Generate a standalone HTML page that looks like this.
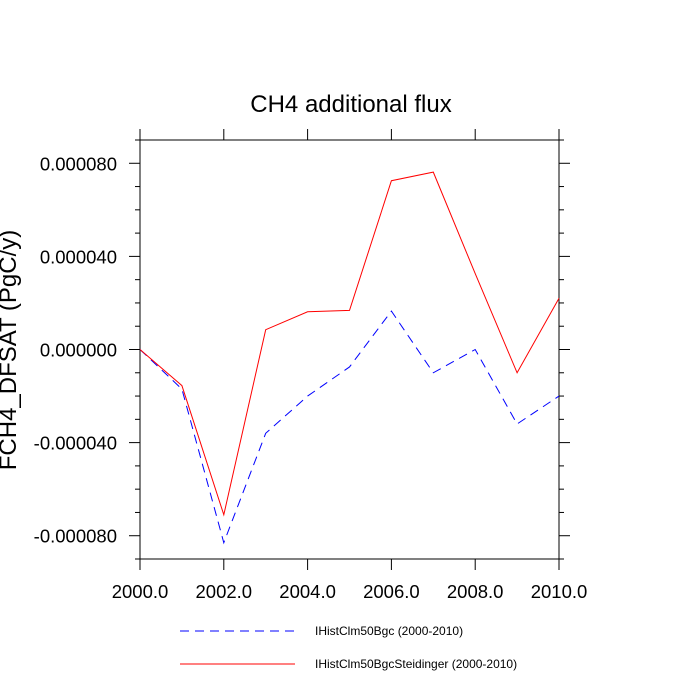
<!DOCTYPE html>
<html><head><meta charset="utf-8"><style>body{margin:0;background:#fff}svg{display:block}text{font-family:"Liberation Sans",sans-serif}</style></head>
<body>
<svg id="c" width="700" height="700" xmlns="http://www.w3.org/2000/svg">
<text x="351" y="112" font-size="24" text-anchor="middle">CH4 additional flux</text>
<text transform="translate(16,350) rotate(-90)" font-size="24" text-anchor="middle">FCH4_DFSAT  (PgC/y)</text>
<g id="axes"></g>
<g id="series"></g>
<g>
<line x1="180" y1="631" x2="295" y2="631" stroke="#00f" stroke-dasharray="9,6"/>
<text x="315" y="635" font-size="12">IHistClm50Bgc (2000-2010)</text>
<line x1="180" y1="664" x2="295" y2="664" stroke="#f00"/>
<text x="315" y="668" font-size="12">IHistClm50BgcSteidinger (2000-2010)</text>
</g>
</svg>
<script>
const years=[2000,2001,2002,2003,2004,2005,2006,2007,2008,2009,2010];
const bgc=[0,-0.000017,-0.000083,-0.000036,-0.00002,-0.0000075,0.0000165,-0.00001,0,-0.000032,-0.00002];
const steid=[0,-0.0000155,-0.000071,0.0000085,0.0000162,0.0000168,0.0000725,0.0000762,0.0000326,-0.00001,0.000022];
const xTicks=[2000,2002,2004,2006,2008,2010];
const xTickLabels=["2000.0","2002.0","2004.0","2006.0","2008.0","2010.0"];
const yTicks=[-0.00008,-0.00004,0,0.00004,0.00008];
const yTickLabels=["-0.000080","-0.000040","0.000000","0.000040","0.000080"];
const L=140,R=559,T=140,B=559,ymin=-0.00009,ymax=0.00009;
const X=v=>L+(v-2000)/10*(R-L), Y=v=>B-(v-ymin)/(ymax-ymin)*(B-T);
const NS="http://www.w3.org/2000/svg";
function mk(t,a,p){const e=document.createElementNS(NS,t);for(const k in a)e.setAttribute(k,a[k]);p.appendChild(e);return e;}
const ax=document.getElementById('axes');
const fr=mk('rect',{x:L,y:T,width:R-L,height:B-T,fill:'none',stroke:'#000','stroke-width':1},ax);


xTicks.forEach((v,i)=>{const x=X(v);
 const a=mk('line',{x1:x,y1:B,x2:x,y2:B+11,stroke:'#000'},ax);
 
 
 const b=mk('line',{x1:x,y1:T,x2:x,y2:T-11,stroke:'#000'},ax);
 
 
 const t=mk('text',{x:x,y:B+39,'font-size':18.5,'text-anchor':'middle'},ax);t.textContent=xTickLabels[i];
 
 
});
for(let k=-9;k<=9;k++){const v=k*0.00001,y=Y(v),maj=(k%4===0);const len=maj?11:5;
 const a=mk('line',{x1:L,y1:y,x2:L-len,y2:y,stroke:'#000'},ax);
 
 
 const b=mk('line',{x1:R,y1:y,x2:R+len,y2:y,stroke:'#000'},ax);
 
 
}
yTicks.forEach((v,i)=>{const t=mk('text',{x:L-23,y:Y(v)+7,'font-size':18.5,'text-anchor':'end'},ax);t.textContent=yTickLabels[i];
 
 
});
const s=document.getElementById('series');
const p1=mk('polyline',{points:years.map((y,i)=>X(y)+','+Y(bgc[i])).join(' '),fill:'none',stroke:'#00f','stroke-dasharray':'9,6'},s);


const p2=mk('polyline',{points:years.map((y,i)=>X(y)+','+Y(steid[i])).join(' '),fill:'none',stroke:'#f00'},s);


</script>
</body></html>
